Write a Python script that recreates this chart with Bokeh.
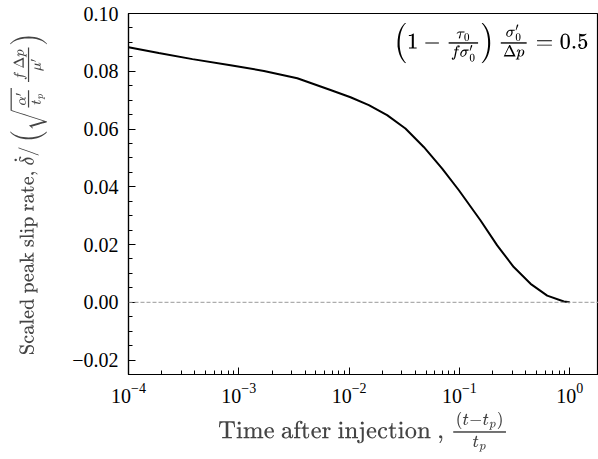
from bokeh.plotting import figure
from bokeh.models import (LogAxis, LinearAxis, Range1d, Span, Label,
                          SingleIntervalTicker, LogTicker, CustomJSTickFormatter)
from bokeh.embed import file_html
from bokeh.resources import INLINE

# Data
time_after = [1.0e-4, 1.88e-4, 3.8e-4, 8.41e-4, 1.69e-3, 3.39e-3, 6.78e-3, 1.03e-2,
              1.51e-2, 2.21e-2, 3.24e-2, 4.75e-2, 6.98e-2, 9.89e-2, 0.155, 0.220,
              0.311, 0.442, 0.625, 0.885, 1.0]
slip_rate = [0.0883, 0.0863, 0.0842, 0.0821, 0.0801, 0.0776, 0.0735, 0.0710,
             0.0683, 0.0648, 0.0602, 0.0538, 0.0463, 0.0388, 0.0284, 0.0197,
             0.0122, 0.0064, 0.0023, 0.0003, 0.0]

x_label = r"$$\textstyle\text{Time after injection , }\frac{(t-t_p)}{t_p}$$"
y_label = (r"$$\textstyle\text{Scaled peak slip rate, }\dot{\delta}/"
           r"\left(\sqrt{\frac{\alpha'}{t_p}}\,\frac{f\,\Delta p}{\mu'}\right)$$")
annot = (r"$$\textstyle\left(1-\frac{\tau_0}{f\sigma'_0}\right)\,"
         r"\frac{\sigma'_0}{\Delta p}=0.5$$")

FONT = "Liberation Serif"

p = figure(width=598, height=459, x_axis_type="log", y_axis_location=None,
           x_axis_location=None,
           x_range=Range1d(1e-4, 1.824), y_range=Range1d(-0.025, 0.10),
           output_backend="svg", toolbar_location=None,
           min_border_left=128, min_border_right=0, min_border_top=13,
           min_border_bottom=85)
p.outline_line_color = "black"
p.outline_line_width = 1.2
p.outline_line_alpha = 1.0
p.grid.visible = False
p.background_fill_color = "white"
p.border_fill_color = "white"


def style(ax):
    ax.major_tick_in = 7
    ax.major_tick_out = 0
    ax.minor_tick_in = 4
    ax.minor_tick_out = 0
    ax.major_tick_line_color = "black"
    ax.minor_tick_line_color = "black"
    ax.axis_line_color = "black"
    ax.axis_line_width = 1.2
    ax.major_label_text_font = FONT
    ax.major_label_text_color = "black"
    ax.major_label_text_font_size = "20px"


yfmt = CustomJSTickFormatter(code="""
const v = Math.abs(tick) < 1e-9 ? 0 : tick;
return (v < 0 ? '\\u2212' : '') + Math.abs(v).toFixed(2);
""")

bottom = LogAxis(ticker=LogTicker(num_minor_ticks=10), axis_label=x_label)
style(bottom)
bottom.major_label_standoff = 8
bottom.axis_label_standoff = 6
bottom.axis_label_text_font_size = "20px"
p.add_layout(bottom, "below")

left = LinearAxis(ticker=SingleIntervalTicker(interval=0.02, num_minor_ticks=4),
                  formatter=yfmt, axis_label=y_label)
style(left)
left.major_label_standoff = 10
left.axis_label_standoff = 22
left.axis_label_text_font_size = "17px"
p.add_layout(left, "left")

p.add_layout(Span(location=0, dimension="width", line_color="#999999",
                  line_dash="4 2", line_width=1))

p.line(time_after, slip_rate, line_color="black", line_width=2)

p.add_layout(Label(x=1.48, y=0.0898, text=annot, text_align="right",
                   text_baseline="middle", text_font_size="19px",
                   text_color="black"))

open("out.html", "w").write(file_html(p, INLINE))
